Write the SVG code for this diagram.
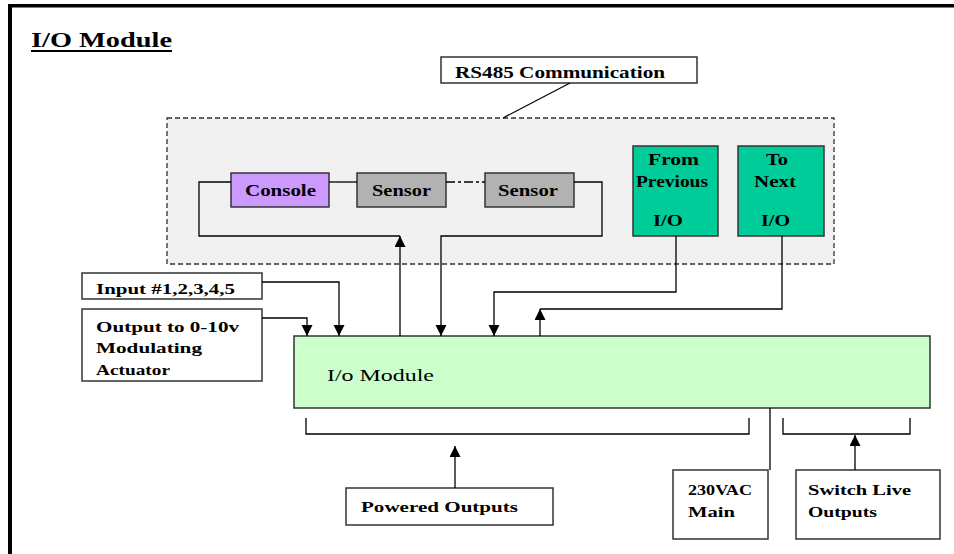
<svg xmlns="http://www.w3.org/2000/svg" width="954" height="554" viewBox="0 0 954 554">
<defs>
<marker id="arr" markerUnits="userSpaceOnUse" markerWidth="12" markerHeight="12" refX="11" refY="5.5" orient="auto">
<path d="M0,0 L11,5.5 L0,11 z" fill="#000"/>
</marker>
<style>
.t{font-family:"Liberation Serif","Times New Roman",serif;fill:#000}
.b{font-weight:bold}
.box{stroke:#333;stroke-width:1.5}
.w{fill:#fff}
.c{fill:none;stroke:#000;stroke-width:1.3}
.ca{fill:none;stroke:#000;stroke-width:1.3;marker-end:url(#arr)}
</style>
</defs>
<rect width="954" height="554" fill="#fff"/>
<g id="frame">
<line x1="8" y1="5.7" x2="954" y2="5.7" stroke="#000" stroke-width="3.6"/>
<line x1="10" y1="4" x2="10" y2="554" stroke="#000" stroke-width="4"/>
</g>
<g id="title">
<text class="t b" x="31" y="47" font-size="22" textLength="141" lengthAdjust="spacingAndGlyphs">I/O Module</text>
<line x1="31" y1="51" x2="172" y2="51" stroke="#000" stroke-width="1.8"/>
</g>
<g id="rs485-group">
<rect x="167" y="118" width="667" height="146" fill="#f1f1f1" stroke="#333" stroke-width="1.3" stroke-dasharray="5 3"/>
</g>
<g id="rs485-label">
<rect class="box w" x="441" y="57" width="256" height="26"/>
<text class="t b" x="455" y="78" font-size="16" textLength="210" lengthAdjust="spacingAndGlyphs">RS485 Communication</text>
</g>
<g id="console">
<rect class="box" x="231" y="173" width="98" height="34" fill="#cc99ff"/>
<text class="t b" x="245" y="196" font-size="16" textLength="71" lengthAdjust="spacingAndGlyphs">Console</text>
</g>
<g id="sensor1">
<rect class="box" x="357" y="173" width="89" height="34" fill="#b2b2b2"/>
<text class="t b" x="372" y="196" font-size="16" textLength="59" lengthAdjust="spacingAndGlyphs">Sensor</text>
</g>
<g id="sensor2">
<rect class="box" x="485" y="173" width="89" height="34" fill="#b2b2b2"/>
<text class="t b" x="498" y="196" font-size="16" textLength="60" lengthAdjust="spacingAndGlyphs">Sensor</text>
</g>
<g id="from-previous">
<rect class="box" x="633" y="146" width="85" height="90" fill="#00cc99"/>
<text class="t b" x="648" y="165" font-size="16" textLength="51" lengthAdjust="spacingAndGlyphs">From</text>
<text class="t b" x="636" y="187" font-size="16" textLength="72" lengthAdjust="spacingAndGlyphs">Previous</text>
<text class="t b" x="653" y="226" font-size="16" textLength="30" lengthAdjust="spacingAndGlyphs">I/O</text>
</g>
<g id="to-next">
<rect class="box" x="738" y="146" width="86" height="90" fill="#00cc99"/>
<text class="t b" x="766" y="165" font-size="16" textLength="22" lengthAdjust="spacingAndGlyphs">To</text>
<text class="t b" x="754" y="187" font-size="16" textLength="42" lengthAdjust="spacingAndGlyphs">Next</text>
<text class="t b" x="761" y="226" font-size="16" textLength="29" lengthAdjust="spacingAndGlyphs">I/O</text>
</g>
<g id="input">
<rect class="box w" x="82" y="273" width="180" height="26"/>
<text class="t b" x="96" y="294" font-size="15" textLength="139" lengthAdjust="spacingAndGlyphs">Input #1,2,3,4,5</text>
</g>
<g id="output">
<rect class="box w" x="82" y="309" width="180" height="72"/>
<text class="t b" x="96" y="332" font-size="15" textLength="143" lengthAdjust="spacingAndGlyphs">Output to 0-10v</text>
<text class="t b" x="96" y="353" font-size="15" textLength="106" lengthAdjust="spacingAndGlyphs">Modulating</text>
<text class="t b" x="96" y="375" font-size="15" textLength="74" lengthAdjust="spacingAndGlyphs">Actuator</text>
</g>
<g id="io-module">
<rect class="box" x="294" y="336" width="636" height="72" fill="#ccffcc"/>
<text class="t" x="327" y="381" font-size="17" textLength="107" lengthAdjust="spacingAndGlyphs">I/o Module</text>
</g>
<g id="powered-outputs">
<rect class="box w" x="346" y="488" width="207" height="37"/>
<text class="t b" x="361" y="512" font-size="15" textLength="157" lengthAdjust="spacingAndGlyphs">Powered Outputs</text>
</g>
<g id="mains">
<rect class="box w" x="673" y="470" width="95" height="69"/>
<text class="t b" x="688" y="495" font-size="15" textLength="64" lengthAdjust="spacingAndGlyphs">230VAC</text>
<text class="t b" x="688" y="517" font-size="15" textLength="47" lengthAdjust="spacingAndGlyphs">Main</text>
</g>
<g id="switch-live">
<rect class="box w" x="796" y="470" width="144" height="69"/>
<text class="t b" x="808" y="495" font-size="15" textLength="103" lengthAdjust="spacingAndGlyphs">Switch Live</text>
<text class="t b" x="808" y="517" font-size="15" textLength="69" lengthAdjust="spacingAndGlyphs">Outputs</text>
</g>
<g id="connectors">
<line class="c" x1="570" y1="83" x2="503" y2="118"/>
<line class="c" x1="329" y1="182" x2="357" y2="182"/>
<line class="c" x1="446" y1="182" x2="485" y2="182" stroke-dasharray="9 3 3 3"/>
<polyline class="c" points="231,182 199,182 199,236 400,236"/>
<line class="ca" x1="400" y1="336" x2="400" y2="236"/>
<polyline class="ca" points="574,182 602,182 602,236 441,236 441,336"/>
<polyline class="ca" points="262,282 339,282 339,336"/>
<polyline class="ca" points="262,318 307,318 307,336"/>
<polyline class="ca" points="676,236 676,292 494,292 494,336"/>
<polyline class="c" points="782,236 782,309 540,309"/>
<line class="ca" x1="540" y1="336" x2="540" y2="309"/>
<line class="c" x1="770" y1="408" x2="770" y2="470"/>
<polyline class="c" points="306,418 306,434 749,434 749,418"/>
<polyline class="c" points="783,418 783,434 910,434 910,418"/>
<line class="ca" x1="455" y1="488" x2="455" y2="446"/>
<line class="ca" x1="855" y1="470" x2="855" y2="435"/>
</g>
</svg>
